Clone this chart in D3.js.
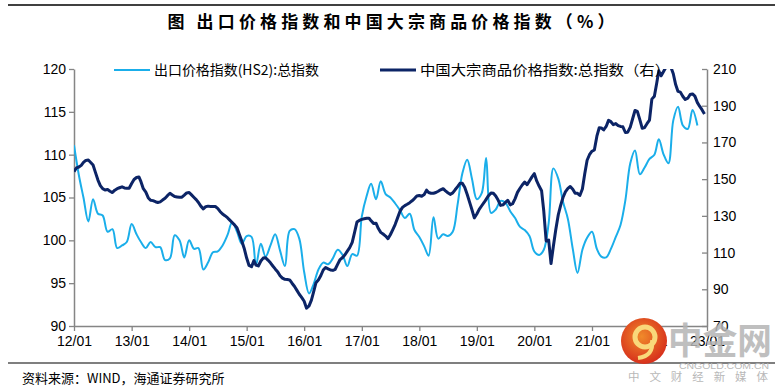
<!DOCTYPE html>
<html>
<head>
<meta charset="utf-8">
<script src="https://cdn.jsdelivr.net/npm/d3@7"></script>
<style>
  body { margin: 0; background: #fff; }
  svg { display: block; font-family: "Liberation Sans", Arial, "Noto Sans CJK SC", sans-serif; }
</style>
</head>
<body>
<div id="chart"></div>
<script>
// Export price index vs China commodity price index

// export price index (HS2), monthly from 2012/01, left axis
const exportStart = "2012-01-01";
const exportIndex = [
  111.1, 107.6, 105.0, 102.2, 104.8, 103.1, 102.9, 101.0, 101.3, 99.1, 99.4, 99.8,
  101.9, 100.7, 99.8, 99.1, 99.8, 99.2, 99.2, 97.7, 97.9, 100.6, 100.0, 98.0,
  100.0, 99.0, 99.1, 96.6, 97.4, 98.6, 98.7, 99.4, 100.6, 102.1, 101.0, 99.6,
  100.5, 100.4, 97.1, 99.6, 98.1, 99.4, 100.7, 98.8, 97.0, 101.1, 101.3, 100.2,
  96.3, 93.8, 94.9, 96.6, 97.4, 97.2, 97.9, 98.9, 98.3, 97.0, 98.4, 98.2,
  102.8, 105.2, 106.6, 104.8, 106.9, 105.4, 105.0, 104.3, 103.5, 102.6, 103.1, 101.2,
  100.4, 99.3, 98.2, 102.7, 100.2, 100.7, 100.5, 101.0, 104.2, 107.8, 109.4, 107.2,
  104.8, 105.5, 109.6, 103.2, 103.6, 104.6, 104.4, 103.4, 102.6, 101.6, 101.2, 100.5,
  98.7, 98.3, 98.9, 102.0, 108.4, 107.2, 104.5, 102.5, 99.0, 96.2, 98.9, 100.3,
  101.0, 99.0, 98.1, 98.0, 99.0, 100.4, 101.8, 104.7, 109.0, 110.5, 107.7, 108.5,
  109.5, 110.0, 111.8, 110.0, 109.0, 114.0, 115.6, 113.4, 113.0, 115.2, 113.4
];

// China commodity price index, twice a month (1st, 16th) from 2012/01, right axis
const commodityStart = "2012-01-01";
const commodityIndex = [
  154.1, 156.1, 156.6, 157.5, 159.1, 160.2, 160.4, 159.1, 157.7, 153.7, 149.5, 146.5,
  144.8, 144.1, 144.4, 143.4, 142.7, 144.0, 144.8, 145.3, 145.8, 145.2, 145.0, 145.0,
  147.6, 149.8, 150.9, 151.2, 148.6, 144.8, 142.9, 139.9, 138.5, 138.3, 137.7, 137.3,
  137.6, 138.6, 139.6, 141.0, 142.3, 141.4, 140.5, 140.3, 140.1, 140.2, 141.3, 142.5,
  142.7, 141.4, 140.0, 138.7, 137.3, 135.3, 133.8, 135.0, 135.3, 135.1, 135.1, 135.1,
  134.1, 132.4, 131.0, 130.1, 129.0, 127.7, 126.4, 125.1, 123.4, 119.9, 116.3, 112.4,
  107.0, 103.0, 102.3, 105.6, 103.2, 102.7, 105.4, 107.0, 107.2, 105.9, 104.4, 102.7,
  101.1, 99.6, 97.4, 96.1, 95.4, 95.3, 95.1, 93.3, 91.5, 89.4, 87.3, 85.6,
  83.5, 79.7, 81.0, 84.1, 88.6, 93.6, 95.2, 97.5, 100.5, 101.9, 101.1, 100.5,
  100.3, 100.9, 103.7, 106.2, 107.3, 108.8, 110.8, 112.7, 115.6, 121.0, 126.6, 127.5,
  128.1, 128.4, 128.7, 128.7, 127.3, 125.9, 126.0, 123.1, 121.0, 120.1, 119.0, 117.6,
  119.7, 122.4, 125.4, 128.9, 132.6, 134.6, 135.6, 136.3, 137.2, 138.2, 139.4, 140.8,
  141.1, 140.7, 141.6, 144.0, 142.7, 142.3, 142.3, 142.7, 143.4, 144.2, 144.8, 143.6,
  142.6, 141.7, 142.5, 144.2, 145.9, 147.7, 147.7, 145.6, 141.6, 137.5, 133.3, 128.9,
  131.0, 133.5, 135.5, 137.3, 139.0, 141.0, 142.5, 142.3, 140.8, 138.6, 135.7, 136.0,
  137.3, 138.5, 136.0, 136.6, 139.4, 142.8, 144.9, 146.8, 148.4, 147.0, 149.0, 151.1,
  153.0, 149.0, 146.1, 143.7, 132.5, 116.3, 116.8, 104.0, 113.6, 122.4, 130.6, 135.7,
  140.0, 143.1, 145.0, 146.0, 144.5, 142.3, 142.3, 141.1, 144.6, 152.9, 160.3, 163.3,
  165.2, 165.9, 173.4, 178.0, 177.9, 176.8, 178.7, 182.0, 181.3, 179.7, 180.3, 179.2,
  178.7, 178.5, 175.4, 175.6, 178.3, 182.9, 187.4, 186.9, 182.3, 177.7, 178.1, 180.2,
  182.2, 193.6, 195.2, 202.4, 209.0, 206.3, 208.8, 211.0, 212.0, 211.2, 207.4, 201.5,
  197.8, 197.4, 195.0, 193.4, 194.1, 196.1, 196.4, 195.2, 191.7, 189.6, 187.7, 185.5
];

const leftTicks = [90, 95, 100, 105, 110, 115, 120];
const rightTicks = [70, 90, 110, 130, 150, 170, 190, 210];
const xTickLabels = ["12/01", "13/01", "14/01", "15/01", "16/01", "17/01",
                     "18/01", "19/01", "20/01", "21/01", "22/01", "23/01"];

const titleText = "图  出口价格指数和中国大宗商品价格指数（%）";
const legendNames = ["出口价格指数(HS2):总指数", "中国大宗商品价格指数:总指数（右）"];
const sourceText = "资料来源：WIND，海通证券研究所";

const colorLight = "#1aaeea";
const colorDark = "#0c2466";
const axisColor = "#858585";

const W = 782, H = 391;
const plot = { left: 74, right: 707, top: 69, bottom: 326 };

const svg = d3.select("#chart").append("svg")
  .attr("width", W).attr("height", H);

// rules top and bottom
svg.append("line").attr("x1", 8).attr("x2", 775).attr("y1", 5).attr("y2", 5)
  .attr("stroke", "#000").attr("stroke-width", 1.5);
svg.append("line").attr("x1", 8).attr("x2", 775).attr("y1", 363).attr("y2", 363)
  .attr("stroke", "#000").attr("stroke-width", 1.2);

svg.append("text")
  .attr("x", 391).attr("y", 28)
  .attr("text-anchor", "middle")
  .attr("font-family", "'Noto Sans CJK SC', sans-serif")
  .attr("font-weight", "bold")
  .attr("font-size", "17px")
  .attr("textLength", 447).attr("lengthAdjust", "spacing")
  .text(titleText);

// scales
const parse = d3.timeParse("%Y-%m-%d");
const x0 = parse(exportStart);
const x = d3.scaleTime()
  .domain([x0, d3.timeYear.offset(x0, 11)])
  .range([plot.left, plot.right]);
const yL = d3.scaleLinear().domain([90, 120]).range([plot.bottom, plot.top]);
const yR = d3.scaleLinear().domain([70, 210]).range([plot.bottom, plot.top]);

const exportData = exportIndex.map((v, i) => ({ date: d3.timeMonth.offset(x0, i), value: v }));
const c0 = parse(commodityStart);
const commodityData = commodityIndex.map((v, i) => ({
  date: d3.timeDay.offset(d3.timeMonth.offset(c0, Math.floor(i / 2)), (i % 2) * 15),
  value: v
}));

// axes
const gL = svg.append("g").attr("transform", `translate(${plot.left},0)`)
  .call(d3.axisLeft(yL).tickValues(leftTicks).tickSize(5).tickSizeOuter(0).tickPadding(3));
const gR = svg.append("g").attr("transform", `translate(${plot.right},0)`)
  .call(d3.axisRight(yR).tickValues(rightTicks).tickSize(-5).tickSizeOuter(0).tickPadding(6));
const yearTicks = xTickLabels.map((d, i) => d3.timeYear.offset(x0, i));
const gX = svg.append("g").attr("transform", `translate(0,${plot.bottom})`)
  .call(d3.axisBottom(x).tickValues(yearTicks).tickSize(5).tickSizeOuter(0).tickPadding(5)
    .tickFormat((d, i) => xTickLabels[i]));

[gL, gR, gX].forEach(g => {
  g.select(".domain").attr("stroke", axisColor).attr("stroke-width", 1.5);
  g.selectAll(".tick line").attr("stroke", axisColor).attr("stroke-width", 1.3);
  g.selectAll(".tick text").attr("fill", "#000").attr("font-size", "14px")
    .attr("font-family", "'Liberation Sans', Arial, sans-serif");
});

// lines
svg.append("clipPath").attr("id", "plotclip").append("rect")
  .attr("x", plot.left).attr("y", plot.top)
  .attr("width", plot.right - plot.left).attr("height", plot.bottom - plot.top);

const lineLight = d3.line().x(d => x(d.date)).y(d => yL(d.value)).curve(d3.curveCatmullRom.alpha(0.5));
const lineDark = d3.line().x(d => x(d.date)).y(d => yR(d.value));

const gLines = svg.append("g").attr("clip-path", "url(#plotclip)");
gLines.append("path").datum(exportData)
  .attr("d", lineLight).attr("fill", "none")
  .attr("stroke", colorLight).attr("stroke-width", 2);
gLines.append("path").datum(commodityData)
  .attr("d", lineDark).attr("fill", "none")
  .attr("stroke", colorDark).attr("stroke-width", 3).attr("stroke-linejoin", "round");

// legend
const legend = svg.append("g").attr("font-family", "'Noto Sans CJK SC', sans-serif").attr("font-size", "14px");
[[114, colorLight, 2, legendNames[0], 165], [380, colorDark, 3, legendNames[1], 250]].forEach(([lx, c, w, t, tl]) => {
  legend.append("line").attr("x1", lx).attr("x2", lx + 36).attr("y1", 70).attr("y2", 70)
    .attr("stroke", c).attr("stroke-width", w);
  legend.append("text").attr("x", lx + 40).attr("y", 75).attr("fill", "#000")
    .attr("textLength", tl).attr("lengthAdjust", "spacingAndGlyphs").text(t);
});

// source
svg.append("text").attr("x", 22).attr("y", 383)
  .attr("font-family", "'Noto Sans CJK SC', sans-serif").attr("font-size", "13px")
  .text(sourceText);

// watermark
const defs = svg.append("defs");
const grad = defs.append("radialGradient").attr("id", "logoGrad").attr("cx", "45%").attr("cy", "40%").attr("r", "60%");
grad.append("stop").attr("offset", "0%").attr("stop-color", "#f08a2a");
grad.append("stop").attr("offset", "100%").attr("stop-color", "#d7301c");
const wm = svg.append("g");
wm.append("circle").attr("cx", 644).attr("cy", 341).attr("r", 23).attr("fill", "url(#logoGrad)");
wm.append("circle").attr("cx", 645).attr("cy", 337).attr("r", 10).attr("fill", "none")
  .attr("stroke", "#f9d87a").attr("stroke-width", 5);
wm.append("path").attr("d", "M652,340 Q654,356 638,358").attr("fill", "none")
  .attr("stroke", "#f9d87a").attr("stroke-width", 4);
wm.append("text").attr("x", 668).attr("y", 354)
  .attr("font-family", "'Noto Sans CJK SC', sans-serif").attr("font-weight", "bold")
  .attr("font-size", "36px").attr("fill", "#b4b4b4").attr("opacity", 0.85)
  .attr("textLength", 104).attr("lengthAdjust", "spacingAndGlyphs")
  .text("中金网");
wm.append("text").attr("x", 679).attr("y", 369)
  .attr("font-size", "8.5px").attr("fill", "#b8b8b8")
  .attr("textLength", 90).attr("lengthAdjust", "spacingAndGlyphs")
  .text("CNGOLD.COM.CN");
wm.append("text").attr("x", 628).attr("y", 381)
  .attr("font-family", "'Noto Sans CJK SC', sans-serif")
  .attr("font-size", "11.5px").attr("fill", "#b8b8b8")
  .attr("textLength", 140).attr("lengthAdjust", "spacing")
  .text("中文财经新媒体");
</script>
</body>
</html>
